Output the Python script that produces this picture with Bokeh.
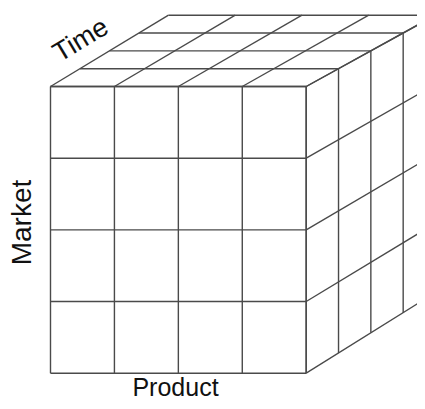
from bokeh.plotting import figure
from bokeh.models import Range1d
from bokeh.core.properties import value
from bokeh.embed import file_html
from bokeh.resources import INLINE

# Dimension labels and number of cells along each dimension
dimension_labels = ["Product", "Market", "Time"]
n_product = 4
n_market = 4
n_time = 4

# Cube faces in picture-pixel space (front face and back face rectangles)
front_face = dict(left=50.0, right=305.7, top=86.0, bottom=372.7)
back_face = dict(left=168.0, right=435.0, top=14.7, bottom=292.0)

LINE_COLOR = "#4a4a4a"
FONT = "Liberation Sans"
W, H = 417, 401


def point(i, j, k):
    """i: product index, j: market index (from top), k: time/depth index."""
    t = k / n_time
    left = front_face["left"] + t * (back_face["left"] - front_face["left"])
    right = front_face["right"] + t * (back_face["right"] - front_face["right"])
    top = front_face["top"] + t * (back_face["top"] - front_face["top"])
    bottom = front_face["bottom"] + t * (back_face["bottom"] - front_face["bottom"])
    x = left + (i / n_product) * (right - left)
    y = top + (j / n_market) * (bottom - top)
    return x, y


segments = []
# front face
for i in range(n_product + 1):
    segments.append((point(i, 0, 0), point(i, n_market, 0)))
for j in range(n_market + 1):
    segments.append((point(0, j, 0), point(n_product, j, 0)))
# top face
for i in range(n_product + 1):
    segments.append((point(i, 0, 0), point(i, 0, n_time)))
for k in range(n_time + 1):
    segments.append((point(0, 0, k), point(n_product, 0, k)))
# right face
for k in range(n_time + 1):
    segments.append((point(n_product, 0, k), point(n_product, n_market, k)))
for j in range(n_market + 1):
    segments.append((point(n_product, j, 0), point(n_product, j, n_time)))

xs = [[a[0], b[0]] for a, b in segments]
ys = [[a[1], b[1]] for a, b in segments]

p = figure(width=W, height=H, output_backend="svg", toolbar_location=None,
           x_range=Range1d(0, W), y_range=Range1d(H, 0),
           min_border=0)
p.axis.visible = False
p.grid.visible = False
p.outline_line_color = None
p.background_fill_color = "white"
p.border_fill_color = "white"

p.multi_line(xs=xs, ys=ys, line_color=LINE_COLOR, line_width=1.4)

# axis labels
p.text(x=[175], y=[386], text=[dimension_labels[0]], text_align="center",
       text_baseline="middle", text_font=value(FONT), text_font_size="25px",
       text_color="#111111")
p.text(x=[21], y=[222], text=[dimension_labels[1]], text_align="center",
       text_baseline="middle", angle=90, angle_units="deg",
       text_font=value(FONT), text_font_size="28px", text_color="#111111")
p.text(x=[80], y=[39], text=[dimension_labels[2]], text_align="center",
       text_baseline="middle", angle=31, angle_units="deg",
       text_font=value(FONT), text_font_size="27px", text_color="#111111")

open("out.html", "w").write(file_html(p, INLINE))
